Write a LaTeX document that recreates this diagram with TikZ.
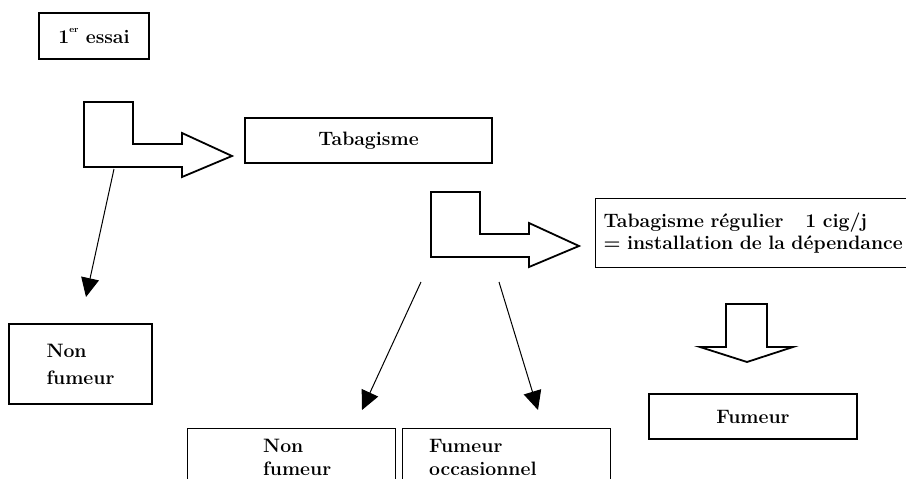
\documentclass[tikz,border=0pt]{standalone}
\usepackage{fontspec}
\usetikzlibrary{arrows.meta}
\begin{document}
\begin{tikzpicture}[x=1pt,y=-1pt,
  box/.style={draw,line width=1.2pt,inner sep=0pt,font=\bfseries\fontsize{19.4}{22}\selectfont},
  txt/.style={inner sep=0pt,align=left,font=\bfseries\fontsize{19.4}{23}\selectfont},
  bent/.style={draw,line width=1.8pt,line join=miter},
  link/.style={line width=1pt,-{Triangle[length=19pt,width=18pt]}}]

  % Page
  \useasboundingbox (0,0) rectangle (906,479);
  \clip (0,0) rectangle (906,479);

  % Boxes
  \node[box,minimum width=110pt,minimum height=46pt] (essai) at (94,36)
    {1\raisebox{1.2ex}{\fontsize{9}{9}\selectfont er} essai};
  \node[box,minimum width=247pt,minimum height=45pt] (tabac) at (368.5,140.5) {Tabagisme};
  \node[box,anchor=north west,minimum height=69pt,text width=312pt,inner xsep=8pt,align=left] (regul) at (595,198)
    {Tabagisme régulier\hspace{22pt}1 cig/j\\= installation de la dépendance};
  \node[box,minimum width=143pt,minimum height=80pt,align=left,font=\bfseries\fontsize{19.4}{27}\selectfont] (nonleft) at (80.5,364)
    {Non\\fumeur};
  \node[box,minimum width=208pt,minimum height=45pt] (fumeur) at (753,416.5) {Fumeur};

  % Bottom boxes (cut by the page)
  \node[box,anchor=north west,minimum width=208pt,minimum height=80pt] (nonbot) at (187,428) {};
  \node[box,anchor=north west,minimum width=208pt,minimum height=80pt] (occas) at (402,428) {};
  \node[txt,anchor=north west] (nonbottxt) at (263,439) {Non\\fumeur};
  \node[txt,anchor=north west] (occastxt) at (429,439) {Fumeur\\occasionnel};

  % Bent arrows
  \foreach \ox/\oy in {84/102, 431/192}
    \draw[bent] (\ox,\oy) -- ++(49,0) -- ++(0,42) -- ++(49,0) -- ++(0,-11)
      -- ++(50,23) -- ++(-50,21) -- ++(0,-10) -- ++(-98,0) -- cycle;

  % Down arrow
  \draw[bent] (726,304) -- (767,304) -- (767,347) -- (793,347) -- (747,362)
    -- (700,347) -- (726,347) -- cycle;

  % Thin arrows
  \coordinate (from1) at (114,169);
  \coordinate (to1) at (86,297);
  \coordinate (from2) at (421,282);
  \coordinate (to2) at (362,410);
  \coordinate (from3) at (499,282);
  \coordinate (to3) at (538,410);
  \draw[link] (from1) -- (to1);
  \draw[link] (from2) -- (to2);
  \draw[link] (from3) -- (to3);

\end{tikzpicture}
\end{document}
